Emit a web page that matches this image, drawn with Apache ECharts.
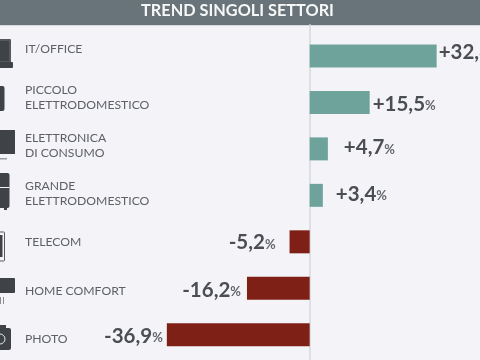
<!DOCTYPE html>
<html><head><meta charset="utf-8">
<style>html,body{margin:0;padding:0;background:#f4f4f8}#c{width:480px;height:360px}</style>
<script src="https://cdn.jsdelivr.net/npm/echarts@6/dist/echarts.min.js"></script>
</head><body><div id="c"></div>
<script>
const chartTitle = 'TREND SINGOLI SETTORI';
const categories = ['IT/OFFICE','PICCOLO\nELETTRODOMESTICO','ELETTRONICA\nDI CONSUMO','GRANDE\nELETTRODOMESTICO','TELECOM','HOME COMFORT','PHOTO'];
const values = [32.8,15.5,4.7,3.4,-5.2,-16.2,-36.9];
const valueTexts = ['+32,8','+15,5','+4,7','+3,4','-5,2','-16,2','-36,9'];
const labelGaps = [2,3,16,13,14,6,4];
const labelLifts = [-4,2,-1,-1,1,2,2];
const dark='#3f4347';
const chart = echarts.init(document.getElementById('c'),null,{renderer:'canvas'});
chart.setOption({
  animation:false,
  backgroundColor:'#f4f4f8',
  title:{text:chartTitle,left:232.5,top:-2.5,textAlign:'center',textStyle:{fontFamily:'Lato',fontSize:16.3,fontWeight:'bold',color:'#f6f7f7'}},
  grid:[
    {left:0,right:0,top:32.7,bottom:2,outerBoundsMode:'none'},
    {left:0,right:0,top:24.85,bottom:-3.15,outerBoundsMode:'none'}
  ],
  xAxis:[
    {gridIndex:0,type:'value',min:-80,max:44,show:false},
    {gridIndex:1,type:'value',min:-80,max:44,show:false}
  ],
  yAxis:[
    {gridIndex:0,type:'category',inverse:true,data:categories,axisLine:{show:false},axisTick:{show:false},axisLabel:{show:false}},
    {gridIndex:1,type:'category',inverse:true,data:categories,position:'left',axisLine:{show:false,onZero:false},axisTick:{show:false},
     axisLabel:{inside:true,margin:25,align:'left',fontFamily:'Lato',fontSize:12.2,lineHeight:15,color:'#5d6166'}},
    {gridIndex:1,type:'category',data:categories,axisLine:{show:true,onZero:true,lineStyle:{color:'#d6d8de',width:1.5}},axisTick:{show:false},axisLabel:{show:false}}
  ],
  series:[{
    type:'bar',xAxisIndex:0,yAxisIndex:0,barWidth:23,silent:true,z:3,
    data:values.map((v,i)=>({
      value:v,
      itemStyle:{color:v>=0?'#6ea39c':'#7f2017'},
      label:{show:true,position:v>=0?'right':'left',distance:labelGaps[i],offset:[0,labelLifts[i]],
        formatter:'{n|'+valueTexts[i]+'}{p|%}',
        rich:{n:{fontFamily:'Lato',fontSize:20.5,fontWeight:'bold',color:'#4a4d52'},p:{fontFamily:'Lato',fontSize:13,fontWeight:'bold',color:'#63666b',padding:[3,0,0,0]}}}
    }))
  }],
  graphic:[
    {type:'rect',z:-1,zlevel:0,shape:{x:0,y:0,width:480,height:25},style:{fill:'#68747a'}},
    {type:'rect',shape:{x:0,y:25,width:480,height:1},style:{fill:'#d6d9dd'}},
    // laptop
    {type:'rect',shape:{x:-6,y:39,width:17,height:24,r:1},style:{fill:'#55595d'}},
    {type:'rect',shape:{x:-6,y:41,width:15,height:20},style:{fill:dark}},
    {type:'rect',shape:{x:-6,y:62,width:19,height:6,r:1},style:{fill:dark}},
    // small appliance
    {type:'rect',shape:{x:-6,y:86,width:10.5,height:25,r:2},style:{fill:dark}},
    // monitor
    {type:'rect',shape:{x:-6,y:130,width:21,height:24},style:{fill:dark}},
    {type:'rect',shape:{x:-6,y:158,width:13,height:1.5},style:{fill:'#9a9da0'}},
    // fridge
    {type:'rect',shape:{x:-6,y:173,width:15.5,height:35,r:2},style:{fill:dark}},
    {type:'rect',shape:{x:-6,y:187,width:15.5,height:1},style:{fill:'#f4f4f8'}},
    {type:'rect',shape:{x:4,y:208,width:3,height:2},style:{fill:dark}},
    // tablet
    {type:'rect',shape:{x:-6,y:232,width:10.5,height:29,r:1},style:{fill:'#f4f4f8',stroke:'#55595d',lineWidth:1}},
    {type:'rect',shape:{x:-6,y:235,width:8.5,height:22},style:{fill:dark}},
    // air conditioner
    {type:'rect',shape:{x:-6,y:278,width:21,height:15,r:1},style:{fill:dark}},
    {type:'rect',shape:{x:0,y:297,width:1,height:7},style:{fill:'#8a8d90'}},
    {type:'rect',shape:{x:3,y:297,width:1,height:7},style:{fill:'#8a8d90'}},
    // camera
    {type:'rect',shape:{x:-6,y:328,width:17,height:22,r:2},style:{fill:dark}},
    {type:'rect',shape:{x:0,y:325,width:6,height:4},style:{fill:dark}},
    {type:'circle',shape:{cx:0,cy:339,r:5},style:{fill:'none',stroke:'#e8e8ea',lineWidth:1}}
  ]
});
</script></body></html>
